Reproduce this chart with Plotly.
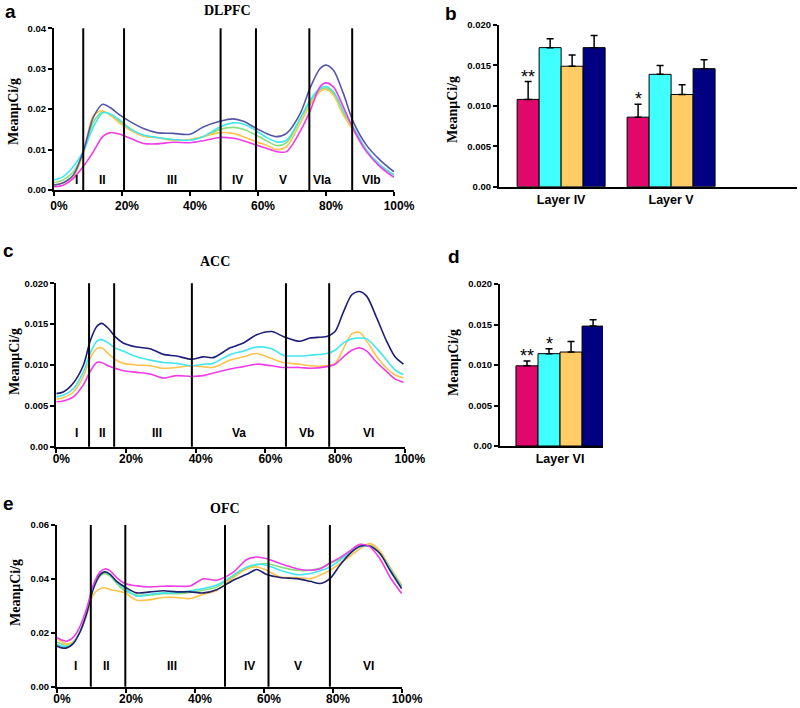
import plotly.graph_objects as go

W, H = 800, 708

# ---------------- data ----------------
# panel a: DLPFC, % of cortical depth
pct_a = [0, 2.7, 5.7, 8.6, 11.6, 14.3, 16.5, 19.4, 22.4, 26.3, 30.2, 35.1, 40, 43.9, 48.8, 52.7,
         55.7, 59.6, 62.5, 65.5, 68.4, 72.4, 75.3, 78.2, 80, 82.2, 85.1, 88, 91.9, 95.9, 100]
navy_a = [0.0012, 0.0018, 0.0037, 0.0095, 0.018, 0.0212, 0.0204, 0.0185, 0.0169, 0.0152, 0.0142,
          0.014, 0.0138, 0.0156, 0.017, 0.0176, 0.017, 0.0152, 0.014, 0.0132, 0.014, 0.0189, 0.0252,
          0.030, 0.0309, 0.0296, 0.0239, 0.0169, 0.0111, 0.0074, 0.0045]
cyan_a = [0.0025, 0.0033, 0.0058, 0.0095, 0.0156, 0.0191, 0.0188, 0.0173, 0.0152, 0.0136, 0.013,
          0.0125, 0.0123, 0.0132, 0.0156, 0.0166, 0.0163, 0.0146, 0.013, 0.0119, 0.0123, 0.0177,
          0.0222, 0.0251, 0.0256, 0.0243, 0.0198, 0.0156, 0.0099, 0.0062, 0.0037]
orange_a = [0.0012, 0.0018, 0.0033, 0.009, 0.0185, 0.0196, 0.0185, 0.0165, 0.0148, 0.0133, 0.013,
            0.0123, 0.0125, 0.0132, 0.0142, 0.014, 0.0132, 0.0119, 0.0111, 0.010, 0.0107, 0.0165,
            0.021, 0.0243, 0.0249, 0.0235, 0.0185, 0.0148, 0.0095, 0.0058, 0.0037]
pink_a = [0.0008, 0.0012, 0.0029, 0.0058, 0.0095, 0.0132, 0.0142, 0.0138, 0.0128, 0.0115, 0.0114,
          0.0118, 0.0117, 0.0122, 0.013, 0.0128, 0.0122, 0.0111, 0.0103, 0.0095, 0.0095, 0.0145,
          0.0195, 0.0255, 0.0265, 0.0255, 0.0206, 0.0152, 0.0095, 0.0058, 0.0031]
green_a = [0.0018, 0.0025, 0.0045, 0.0092, 0.0168, 0.0193, 0.0187, 0.017, 0.015, 0.0134, 0.013,
           0.0124, 0.0124, 0.0132, 0.015, 0.0155, 0.015, 0.0135, 0.0122, 0.011, 0.0117, 0.0175,
           0.0218, 0.0248, 0.0252, 0.024, 0.0192, 0.0152, 0.0097, 0.006, 0.0037]
bounds_a = [8.6, 20.6, 49, 59.4, 75.1, 87.7]
layers_a = ["I", "II", "III", "IV", "V", "VIa", "VIb"]
layer_x_a = [6.5, 14.4, 34.6, 54, 67.4, 78.7, 93.4]

# panel c: ACC
pct_c = [0, 2, 4.9, 7.8, 9.7, 11.6, 13, 14.9, 16.8, 19.2, 23.1, 26.9, 30.7, 34.5, 38.8, 42.2, 45,
         49.9, 53.7, 57.5, 61.8, 65.1, 69.9, 72.8, 77.6, 80, 82.4, 84.8, 87, 89.1, 92, 94.8, 97.2, 99.6]
navy_c = [0.0065, 0.0067, 0.0078, 0.010, 0.0129, 0.0147, 0.0151, 0.0145, 0.0135, 0.0127,
          0.0122, 0.012, 0.0113, 0.0111, 0.0107, 0.011, 0.0109,
          0.0121, 0.0127, 0.0137, 0.0141, 0.0135, 0.0129, 0.0133, 0.0135, 0.0141,
          0.0165, 0.0186, 0.019, 0.0184, 0.0157, 0.0129, 0.011, 0.0101]
cyan_c = [0.0061, 0.0063, 0.0071, 0.0092, 0.0114, 0.0129, 0.0131, 0.0127, 0.0121, 0.0117,
          0.011, 0.0106, 0.0103, 0.0102, 0.0099, 0.0101, 0.0102,
          0.0113, 0.0117, 0.0122, 0.012, 0.0112, 0.0111, 0.0112, 0.0114, 0.0118,
          0.0127, 0.0132, 0.0133, 0.0132, 0.012, 0.0106, 0.0094, 0.0088]
orange_c = [0.0058, 0.006, 0.0067, 0.0086, 0.0108, 0.012, 0.0121, 0.0114, 0.0107, 0.0102,
            0.01, 0.0099, 0.0096, 0.0097, 0.0099, 0.0098, 0.0097,
            0.0106, 0.011, 0.0114, 0.0108, 0.0103, 0.0101, 0.0099, 0.0099, 0.0102,
            0.012, 0.0138, 0.014, 0.0129, 0.011, 0.0096, 0.0088, 0.0084]
pink_c = [0.0055, 0.0056, 0.0061, 0.0076, 0.0092, 0.0103, 0.0103, 0.0099, 0.0096, 0.0093,
          0.0091, 0.0089, 0.0084, 0.0087, 0.0086, 0.0087, 0.009,
          0.0095, 0.0098, 0.0101, 0.0099, 0.0097, 0.0097, 0.0096, 0.0098, 0.0101,
          0.011, 0.0118, 0.0121, 0.0117, 0.0103, 0.0092, 0.0083, 0.0079]
bounds_c = [9.4, 16.6, 38.9, 65.9, 78.3]
layers_c = ["I", "II", "III", "Va", "Vb", "VI"]
layer_x_c = [5.7, 13.3, 28.8, 52.5, 71.8, 89.5]

# panel e: OFC
pct_e = [0, 1.4, 2.8, 4.7, 6.7, 8.6, 10.5, 12.5, 13.9, 15.4, 17.3, 19.7, 23.1, 27, 30.8, 34.7,
         38.6, 42.4, 46.3, 51.1, 55, 57.9, 60.8, 64.7, 69.5, 73.4, 76.3, 79.1, 82, 84.9, 87.8,
         90.7, 93.6, 96.5, 99.9]
navy_e = [0.0151, 0.0144, 0.0144, 0.016, 0.0204, 0.0272, 0.0364, 0.0416, 0.0426, 0.0417, 0.0391, 0.037,
          0.0348, 0.0352, 0.0356, 0.0352, 0.0352, 0.0348, 0.036,
          0.0395, 0.0417, 0.0435, 0.0416, 0.0405, 0.0401, 0.0391, 0.0383, 0.0401,
          0.0451, 0.0494, 0.0521, 0.0521, 0.0494, 0.0432, 0.0364]
pink_e = [0.0183, 0.0173, 0.0169, 0.0183, 0.0225, 0.029, 0.0377, 0.0426, 0.0437, 0.043, 0.0405, 0.0383,
          0.0374, 0.037, 0.0373, 0.0373, 0.0374, 0.0400, 0.0395,
          0.0425, 0.0472, 0.0481, 0.0475, 0.0457, 0.0438, 0.0432, 0.0438, 0.0459,
          0.0479, 0.0504, 0.0528, 0.0519, 0.0475, 0.0407, 0.0346]
cyan_e = [0.0158, 0.0151, 0.0148, 0.0163, 0.0206, 0.0272, 0.0364, 0.0417, 0.0426, 0.0416, 0.0389, 0.0364,
          0.0336, 0.0343, 0.0348, 0.0348, 0.0356, 0.0364, 0.0377,
          0.0414, 0.0444, 0.0454, 0.0451, 0.0432, 0.0416, 0.042, 0.043, 0.0444,
          0.0469, 0.0496, 0.0519, 0.0521, 0.0494, 0.0438, 0.037]
orange_e = [0.0179, 0.0167, 0.0158, 0.0167, 0.0204, 0.0265, 0.034, 0.0364, 0.0367, 0.036, 0.0356, 0.0348,
            0.0321, 0.0323, 0.0331, 0.0331, 0.0327, 0.0343, 0.0358,
            0.0405, 0.0438, 0.0444, 0.0432, 0.0407, 0.0405, 0.0401, 0.0414, 0.0432,
            0.0457, 0.0484, 0.0512, 0.0531, 0.0504, 0.0444, 0.0377]
green_e = [0.0165, 0.0158, 0.0152, 0.0163, 0.0205, 0.027, 0.036, 0.041, 0.042, 0.041, 0.0383, 0.0356,
           0.034, 0.034, 0.0345, 0.0345, 0.035, 0.0358, 0.037,
           0.041, 0.044, 0.0452, 0.0457, 0.0444, 0.0432, 0.0432, 0.044, 0.0457,
           0.0475, 0.05, 0.052, 0.0525, 0.05, 0.0442, 0.0372]
bounds_e = [9.8, 19.8, 48.7, 61.3, 79.1]
layers_e = ["I", "II", "III", "IV", "V", "VI"]
layer_x_e = [5.5, 14.4, 33.2, 55.7, 69.8, 90.2]

pct_ticks = [0, 20, 40, 60, 80, 100]
pct_text = ["0%", "20%", "40%", "60%", "80%", "100%"]

# panel b: bars, layers IV and V
layers_b = ["Layer IV", "Layer V"]
pink_b = [0.0108, 0.0086]
pink_b_err = [0.0022, 0.0016]
cyan_b = [0.0172, 0.0139]
cyan_b_err = [0.0011, 0.0011]
orange_b = [0.0149, 0.0114]
orange_b_err = [0.0014, 0.0012]
navy_b = [0.0172, 0.0146]
navy_b_err = [0.0015, 0.0011]
stars_b = ["**", "*"]

# panel d: bars, layer VI
layers_d = ["Layer VI"]
pink_d = [0.0099]
pink_d_err = [0.0006]
cyan_d = [0.0114]
cyan_d_err = [0.0006]
orange_d = [0.0116]
orange_d_err = [0.0013]
navy_d = [0.0148]
navy_d_err = [0.0008]

# ---------------- figure ----------------
LINE_PINK = "#f03ce6"
LINE_CYAN = "#40e6f0"
LINE_ORANGE = "#ffc24a"
LINE_GREEN = "#86df7a"
BAR_PINK = "#e0086a"
BAR_CYAN = "#40ffff"
BAR_ORANGE = "#ffcc66"
BAR_NAVY = "#000080"
SANS = "Liberation Sans, Arial"
SERIF = "Liberation Serif, Times New Roman"

fig = go.Figure()


def add_curves(xs, series, ax):
    for ys, col in series:
        fig.add_trace(go.Scatter(x=xs, y=ys, mode="lines", line=dict(color=col, width=1.6, shape="spline", smoothing=0.8),
                                 xaxis="x" + ax, yaxis="y" + ax, hoverinfo="skip"))


add_curves(pct_a, [(green_a, LINE_GREEN), (orange_a, LINE_ORANGE), (cyan_a, LINE_CYAN),
                   (pink_a, LINE_PINK), (navy_a, "#5656a6")], "")
add_curves(pct_c, [(orange_c, LINE_ORANGE), (cyan_c, LINE_CYAN),
                   (pink_c, LINE_PINK), (navy_c, "#1e1e78")], "3")
add_curves(pct_e, [(green_e, LINE_GREEN), (orange_e, LINE_ORANGE), (cyan_e, LINE_CYAN),
                   (navy_e, "#22226c"), (pink_e, LINE_PINK)], "5")


def add_bars(cats, series, ax):
    for ys, err, col in series:
        fig.add_trace(go.Bar(x=cats, y=ys, marker=dict(color=col, line=dict(color="black", width=1)),
                             error_y=dict(type="data", array=err, arrayminus=[0] * len(err), symmetric=False,
                                          color="black", thickness=1.5, width=3.5),
                             xaxis="x" + ax, yaxis="y" + ax, hoverinfo="skip"))


add_bars(layers_b, [(pink_b, pink_b_err, BAR_PINK), (cyan_b, cyan_b_err, BAR_CYAN),
                    (orange_b, orange_b_err, BAR_ORANGE), (navy_b, navy_b_err, BAR_NAVY)], "2")
add_bars(layers_d, [(pink_d, pink_d_err, BAR_PINK), (cyan_d, cyan_d_err, BAR_CYAN),
                    (orange_d, orange_d_err, BAR_ORANGE), (navy_d, navy_d_err, BAR_NAVY)], "4")


def dom_x(p0, p1):
    return [p0 / W, p1 / W]


def dom_y(top, bottom):
    return [1 - bottom / H, 1 - top / H]


def line_xaxis(dom, anchor, standoff):
    return dict(domain=dom, range=[0, 100], tickvals=pct_ticks, ticktext=pct_text, anchor=anchor,
                showline=True, linecolor="black", linewidth=2, ticks="outside", ticklen=4, tickwidth=2,
                tickcolor="black", showgrid=False, zeroline=False, ticklabelshift=5, automargin=False,
                ticklabelstandoff=standoff,
                tickfont=dict(family=SANS, size=12, color="black", weight="bold"))


def yaxis(dom, rng, vals, text, anchor):
    return dict(domain=dom, range=rng, tickvals=vals, ticktext=text, anchor=anchor,
                showline=True, linecolor="black", linewidth=2, ticks="outside", ticklen=4, tickwidth=2,
                tickcolor="black", showgrid=False, zeroline=False, automargin=False,
                tickfont=dict(family=SANS, size=9.5, color="black", weight="bold"))


def bar_xaxis(dom, rng, anchor):
    return dict(domain=dom, range=rng, type="category", anchor=anchor, showline=True, linecolor="black",
                linewidth=2, ticks="", showgrid=False, zeroline=False, automargin=False,
                tickfont=dict(family=SANS, size=12.5, color="black", weight="bold"))


small_vals = [0, 0.005, 0.01, 0.015, 0.02]
small_text = ["0.00", "0.005", "0.010", "0.015", "0.020"]

fig.update_layout(
    width=W, height=H, margin=dict(l=0, r=0, t=0, b=0, autoexpand=False), showlegend=False,
    plot_bgcolor="white", paper_bgcolor="white", barmode="group", bargap=0.2, bargroupgap=0,
    xaxis=line_xaxis(dom_x(54, 394), "y", 0),
    yaxis=yaxis(dom_y(28.3, 190), [0, 0.04], [0, 0.01, 0.02, 0.03, 0.04],
                ["0.00", "0.01", "0.02", "0.03", "0.04"], "x"),
    xaxis2=bar_xaxis(dom_x(499, 797), [-0.565, 2.145], "y2"),
    yaxis2=yaxis(dom_y(25, 186.7), [0, 0.02], small_vals, small_text, "x2"),
    xaxis3=line_xaxis(dom_x(56.3, 404.8), "y3", -4),
    yaxis3=yaxis(dom_y(283.3, 446.7), [0, 0.02], small_vals, small_text, "x3"),
    xaxis4=bar_xaxis(dom_x(500, 603), [-0.545, 0.39], "y4"),
    yaxis4=yaxis(dom_y(284, 446), [0, 0.02], small_vals, small_text, "x4"),
    xaxis5=line_xaxis(dom_x(57, 402), "y5", -4),
    yaxis5=yaxis(dom_y(525, 686.7), [0, 0.06], [0, 0.02, 0.04, 0.06],
                 ["0.00", "0.02", "0.04", "0.06"], "x5"),
)

# layer boundaries and layer names
for ax, bounds, names, xs, ylab in [("", bounds_a, layers_a, layer_x_a, 0.0025),
                                    ("3", bounds_c, layers_c, layer_x_c, 0.0017),
                                    ("5", bounds_e, layers_e, layer_x_e, 0.0077)]:
    for b in bounds:
        fig.add_shape(type="line", xref="x" + ax, yref="y" + ax + " domain", x0=b, x1=b, y0=0, y1=1,
                      line=dict(color="black", width=2))
    for name, lx in zip(names, xs):
        fig.add_annotation(xref="x" + ax, yref="y" + ax, x=lx, y=ylab, text=name, showarrow=False,
                           font=dict(family=SANS, size=12, color="black", weight="bold"))

# significance stars above the error bars
for i, s in enumerate(stars_b):
    fig.add_annotation(xref="x2", yref="y2", x=i - 0.3, y=pink_b[i] + pink_b_err[i], text=s, showarrow=False,
                       yanchor="bottom", yshift=-7, font=dict(family=SANS, size=18, color="black"))
fig.add_annotation(xref="x4", yref="y4", x=-0.3, y=pink_d[0] + pink_d_err[0], text="**", showarrow=False,
                   yanchor="bottom", yshift=-7, font=dict(family=SANS, size=18, color="black"))
fig.add_annotation(xref="x4", yref="y4", x=-0.1, y=cyan_d[0] + cyan_d_err[0], text="*", showarrow=False,
                   yanchor="bottom", yshift=-7, font=dict(family=SANS, size=18, color="black"))


def paper_text(px, py, text, font, angle=0):
    fig.add_annotation(xref="paper", yref="paper", x=px / W, y=1 - py / H, text=text, showarrow=False,
                       xanchor="center", yanchor="middle", textangle=angle, font=font)


letter_font = dict(family=SANS, size=19, color="black", weight="bold")
for px, py, t in [(10, 12, "a"), (451, 14, "b"), (8, 250, "c"), (454, 256, "d"), (8, 503, "e")]:
    paper_text(px, py, t, letter_font)

title_font = dict(family=SERIF, size=14, color="black", weight="bold")
for px, py, t in [(228, 10, "DLPFC"), (215, 261, "ACC"), (225, 508, "OFC")]:
    paper_text(px, py, t, title_font)

for px, py in [(14, 112), (453, 110), (14, 362), (453, 363), (15, 593)]:
    paper_text(px, py, "MeanμCi/g", title_font, angle=-90)

# the page body has a default 8px margin; drop it so the figure fills the window
fig.write_html("out.html", config={"displayModeBar": False},
               post_script="document.body.style.margin='0';")
